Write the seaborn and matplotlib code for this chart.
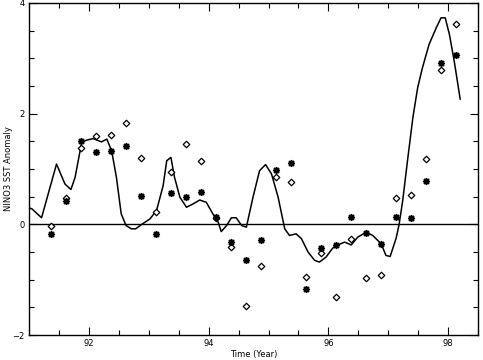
import numpy as np
import pandas as pd
import seaborn as sns
import matplotlib.pyplot as plt
from matplotlib.ticker import MultipleLocator

# 观测/模式曲线（逐月近似，读自原图）
line_time = [91.00, 91.05, 91.21, 91.46, 91.60, 91.70, 91.77, 91.88, 91.96, 92.07,
             92.21, 92.30, 92.38, 92.46, 92.54, 92.62, 92.71, 92.78, 92.91, 93.02,
             93.13, 93.24, 93.30, 93.37, 93.43, 93.52, 93.63, 93.74, 93.85, 93.96,
             94.07, 94.16, 94.21, 94.30, 94.38, 94.46, 94.55, 94.63, 94.74, 94.85,
             94.95, 95.05, 95.16, 95.27, 95.35, 95.46, 95.55, 95.66, 95.77, 95.85,
             95.96, 96.07, 96.16, 96.27, 96.38, 96.49, 96.63, 96.74, 96.88, 96.96,
             97.03, 97.13, 97.18, 97.24, 97.32, 97.41, 97.49, 97.57, 97.68, 97.80,
             97.88, 97.95, 98.02, 98.10, 98.20]
line_sst = [0.30, 0.28, 0.12, 1.09, 0.73, 0.63, 0.85, 1.48, 1.52, 1.55,
            1.49, 1.54, 1.33, 0.85, 0.19, -0.02, -0.08, -0.08, 0.02, 0.10,
            0.25, 0.70, 1.15, 1.21, 0.85, 0.49, 0.31, 0.37, 0.44, 0.40,
            0.19, 0.04, -0.13, -0.02, 0.12, 0.12, -0.02, -0.05, 0.49, 0.97,
            1.08, 0.91, 0.49, -0.08, -0.20, -0.17, -0.26, -0.50, -0.65, -0.68,
            -0.59, -0.43, -0.37, -0.32, -0.37, -0.23, -0.14, -0.20, -0.35, -0.56,
            -0.58, -0.25, 0.00, 0.43, 1.15, 1.93, 2.47, 2.83, 3.25, 3.55,
            3.73, 3.73, 3.43, 2.95, 2.26]

# 季度预报点
fc_time = [91.375 + 0.25 * k for k in range(28)]
star_sst = [-0.17, 0.42, 1.51, 1.30, 1.33, 1.42, 0.52, -0.17, 0.56, 0.50,
            0.59, 0.13, -0.32, -0.65, -0.28, 0.98, 1.10, -1.16, -0.43, -0.37,
            0.14, -0.16, -0.35, 0.13, 0.12, 0.79, 2.91, 3.06]
diamond_sst = [-0.02, 0.48, 1.38, 1.59, 1.62, 1.83, 1.20, 0.23, 0.95, 1.45,
               1.14, 0.12, -0.40, -1.47, -0.75, 0.86, 0.77, -0.95, -0.52, -1.31,
               -0.26, -0.97, -0.91, 0.48, 0.53, 1.18, 2.78, 3.61]

sns.set_style("ticks")
plt.rcParams['font.family'] = ['DejaVu Sans']

fig = plt.figure(figsize=(4.83, 3.6), dpi=100)
ax = fig.add_axes([0.060, 0.069, 0.930, 0.923])

line_df = pd.DataFrame({"time": line_time, "sst": line_sst})
pts_df = pd.DataFrame({"time": fc_time, "star": star_sst, "diamond": diamond_sst})

ax.axhline(0, color='black', lw=1.0, zorder=1)
sns.lineplot(data=line_df, x="time", y="sst", ax=ax, color='black', lw=1.1,
             sort=False, zorder=2)
sns.scatterplot(data=pts_df, x="time", y="diamond", ax=ax, marker='D', s=11,
                facecolor='white', edgecolor='black', linewidth=0.9, zorder=3)
sns.scatterplot(data=pts_df, x="time", y="star", ax=ax, marker=(8, 2, 0), s=16,
                color='black', edgecolor='black', linewidth=1.2, zorder=4)

ax.set_xlim(91, 98.5)
ax.set_ylim(-2, 4)
ax.xaxis.set_major_locator(MultipleLocator(2))
ax.xaxis.set_minor_locator(MultipleLocator(0.5))
ax.yaxis.set_major_locator(MultipleLocator(2))
ax.yaxis.set_minor_locator(MultipleLocator(0.5))
ax.tick_params(which='both', direction='in', top=True, right=True,
               labelsize=6, width=0.8, pad=3, colors='black')
ax.tick_params(which='major', length=6)
ax.tick_params(which='minor', length=3.5)
for sp in ax.spines.values():
    sp.set_linewidth(1.0)
    sp.set_color('black')

ax.set_xlabel("Time (Year)", fontsize=6, labelpad=1, color='black')
ax.set_ylabel("NINO3 SST Anomaly", fontsize=6, color='black', va='center')
ax.yaxis.set_label_coords(-0.046, 0.5)

fig.savefig("out.png", dpi=100)
